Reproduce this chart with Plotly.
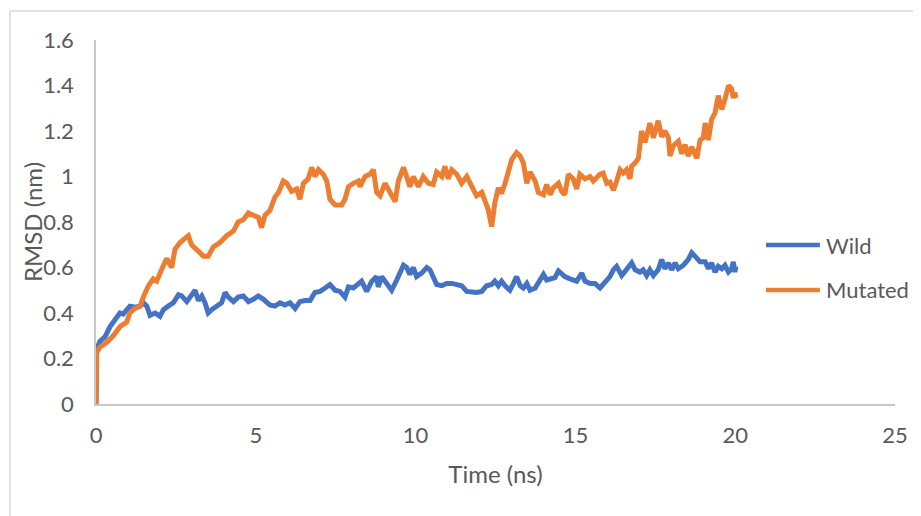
import plotly.graph_objects as go

# Time (ns) and RMSD (nm)
wild_t = [0, 0.02, 0.12, 0.28, 0.44, 0.59, 0.75, 0.85, 0.96, 1.06, 1.22, 1.38, 1.48, 1.59, 1.69,
          1.85, 2.00, 2.11, 2.26, 2.42, 2.58, 2.68, 2.84, 2.99, 3.10, 3.20, 3.31, 3.41, 3.51, 3.62,
          3.78, 3.93, 4.04, 4.14, 4.30, 4.45, 4.61, 4.77, 4.92, 5.08, 5.24, 5.39, 5.44, 5.60, 5.76,
          5.91, 6.07, 6.23, 6.38, 6.54, 6.70, 6.85, 7.01, 7.17, 7.32, 7.48, 7.63, 7.79, 7.90, 8.05,
          8.21, 8.31, 8.47, 8.63, 8.78, 8.83, 8.94, 9.10, 9.25, 9.41, 9.51, 9.62, 9.72, 9.82, 9.93,
          10.03, 10.19, 10.35, 10.45, 10.55, 10.66, 10.82, 10.97, 11.13, 11.29, 11.44, 11.60, 11.75,
          11.91, 12.07, 12.22, 12.38, 12.48, 12.59, 12.69, 12.80, 12.95, 13.06, 13.16, 13.27, 13.37,
          13.48, 13.58, 13.74, 13.84, 14.00, 14.10, 14.26, 14.36, 14.47, 14.57, 14.67, 14.83, 15.04,
          15.20, 15.30, 15.46, 15.61, 15.77, 15.93, 16.08, 16.19, 16.29, 16.45, 16.60, 16.76, 16.87,
          17.02, 17.12, 17.23, 17.33, 17.44, 17.59, 17.70, 17.80, 17.91, 18.01, 18.12, 18.22, 18.38,
          18.53, 18.64, 18.74, 18.90, 19.06, 19.16, 19.26, 19.37, 19.47, 19.58, 19.68, 19.79, 19.89,
          19.94, 19.99, 20.02]
wild_rmsd = [0, 0.24, 0.275, 0.295, 0.34, 0.37, 0.40, 0.395, 0.415, 0.43, 0.425, 0.43, 0.445, 0.43, 0.39,
             0.40, 0.385, 0.415, 0.43, 0.445, 0.48, 0.475, 0.45, 0.475, 0.50, 0.455, 0.475, 0.445, 0.40, 0.415,
             0.43, 0.445, 0.49, 0.47, 0.45, 0.47, 0.475, 0.45, 0.46, 0.475, 0.46, 0.445, 0.435, 0.43, 0.445,
             0.435, 0.445, 0.42, 0.45, 0.455, 0.455, 0.49, 0.495, 0.51, 0.525, 0.50, 0.495, 0.47, 0.515, 0.51,
             0.525, 0.54, 0.495, 0.54, 0.56, 0.515, 0.56, 0.525, 0.50, 0.545, 0.575, 0.61, 0.60, 0.57, 0.60,
             0.56, 0.575, 0.60, 0.59, 0.56, 0.525, 0.52, 0.53, 0.53, 0.525, 0.52, 0.495, 0.49,
             0.49, 0.495, 0.52, 0.525, 0.54, 0.52, 0.54, 0.52, 0.50, 0.53, 0.56, 0.52, 0.51,
             0.53, 0.50, 0.51, 0.53, 0.57, 0.545, 0.55, 0.555, 0.585, 0.57, 0.56, 0.55, 0.54,
             0.575, 0.54, 0.53, 0.53, 0.51, 0.535, 0.56, 0.59, 0.605, 0.565, 0.59, 0.62, 0.59,
             0.58, 0.59, 0.565, 0.59, 0.565, 0.59, 0.635, 0.595, 0.62, 0.59, 0.62, 0.595, 0.61,
             0.635, 0.665, 0.65, 0.625, 0.625, 0.595, 0.62, 0.58, 0.605, 0.595, 0.61, 0.58, 0.595,
             0.625, 0.58, 0.605]

mut_t = [0, 0.02, 0.12, 0.33, 0.54, 0.75, 0.96, 1.06, 1.22, 1.38, 1.48, 1.64, 1.79, 1.90, 2.05,
         2.21, 2.37, 2.47, 2.63, 2.78, 2.89, 2.99, 3.15, 3.36, 3.51, 3.67, 3.88, 4.09, 4.30, 4.45,
         4.61, 4.77, 4.92, 5.08, 5.18, 5.29, 5.44, 5.60, 5.71, 5.86, 5.97, 6.12, 6.28, 6.38, 6.49,
         6.64, 6.75, 6.85, 6.96, 7.11, 7.22, 7.32, 7.48, 7.69, 7.79, 7.90, 8.05, 8.21, 8.26, 8.42,
         8.57, 8.68, 8.78, 8.89, 9.04, 9.15, 9.25, 9.36, 9.46, 9.62, 9.72, 9.82, 9.93, 10.09, 10.24,
         10.40, 10.55, 10.66, 10.82, 10.92, 11.02, 11.13, 11.29, 11.44, 11.60, 11.70, 11.81, 11.91,
         12.07, 12.17, 12.27, 12.38, 12.48, 12.59, 12.69, 12.80, 12.90, 13.01, 13.16, 13.27, 13.37,
         13.48, 13.58, 13.74, 13.84, 14.00, 14.10, 14.21, 14.31, 14.47, 14.57, 14.67, 14.78, 14.93,
         15.04, 15.14, 15.30, 15.46, 15.56, 15.67, 15.77, 15.87, 15.98, 16.08, 16.19, 16.29, 16.40,
         16.50, 16.60, 16.71, 16.76, 16.87, 16.97, 17.07, 17.18, 17.33, 17.44, 17.59, 17.70, 17.80,
         17.91, 17.96, 18.06, 18.22, 18.33, 18.43, 18.53, 18.64, 18.80, 18.90, 19.00, 19.06, 19.16,
         19.26, 19.37, 19.47, 19.58, 19.68, 19.79, 19.89, 19.94, 19.99, 20.02]
mut_rmsd = [0, 0.225, 0.25, 0.27, 0.30, 0.34, 0.36, 0.40, 0.42, 0.43, 0.47, 0.52, 0.55, 0.54, 0.59,
            0.64, 0.60, 0.68, 0.71, 0.73, 0.74, 0.70, 0.68, 0.65, 0.65, 0.69, 0.71, 0.74, 0.76, 0.80,
            0.81, 0.84, 0.83, 0.82, 0.775, 0.83, 0.85, 0.91, 0.93, 0.98, 0.97, 0.935, 0.945, 0.90, 0.97,
            0.99, 1.04, 1.00, 1.03, 1.01, 0.98, 0.90, 0.875, 0.875, 0.90, 0.955, 0.97, 0.98, 0.955, 1.00,
            1.01, 1.03, 0.93, 0.915, 0.97, 0.945, 0.925, 0.89, 0.98, 1.04, 1.00, 0.955, 1.00, 0.955, 1.00,
            0.97, 0.965, 1.02, 1.00, 1.045, 0.99, 1.03, 1.01, 0.97, 1.00, 0.97, 0.935, 0.915,
            0.93, 0.885, 0.855, 0.78, 0.885, 0.95, 0.925, 0.97, 1.02, 1.075, 1.105, 1.09, 1.06,
            0.97, 1.02, 0.98, 0.93, 0.92, 0.965, 0.92, 0.95, 0.97, 0.935, 0.92, 1.01, 0.99,
            0.945, 1.01, 0.99, 1.00, 0.98, 1.00, 1.01, 1.015, 0.97, 0.975, 0.94, 0.98, 1.03,
            1.015, 1.03, 0.99, 1.045, 1.06, 1.08, 1.20, 1.15, 1.235, 1.17, 1.245, 1.175, 1.20,
            1.17, 1.09, 1.135, 1.155, 1.10, 1.14, 1.09, 1.13, 1.08, 1.16, 1.17, 1.235, 1.16,
            1.25, 1.28, 1.355, 1.295, 1.34, 1.40, 1.385, 1.345, 1.37, 1.345]

series_names = ["Wild", "Mutated"]
series_colors = ["#4472C4", "#ED7D31"]
x_ticks = [0, 5, 10, 15, 20, 25]
y_ticks = [0, 0.2, 0.4, 0.6, 0.8, 1, 1.2, 1.4, 1.6]

FONT = "Lato, 'Open Sans', sans-serif"
TXT = "#595959"
FS = 22
FS_TITLE = 24

fig = go.Figure()
for t, v, name, col in [(wild_t, wild_rmsd, series_names[0], series_colors[0]),
                        (mut_t, mut_rmsd, series_names[1], series_colors[1])]:
    fig.add_trace(go.Scatter(x=t, y=v, mode="lines", name=name,
                             line=dict(color=col, width=5), showlegend=False))

axis_common = dict(showgrid=False, zeroline=False, showline=True, linecolor="#C8C8C8",
                   linewidth=1.5, ticks="", tickfont=dict(family=FONT, size=FS, color=TXT),
                   title_font=dict(family=FONT, size=FS_TITLE, color=TXT))
fig.update_xaxes(range=[0, 25], tickvals=x_ticks, ticktext=[str(v) for v in x_ticks],
                 title_text="Time (ns)", ticklabelstandoff=11, title_standoff=19, **axis_common)
fig.update_yaxes(range=[0, 1.6], tickvals=y_ticks,
                 ticktext=[("%g" % v) for v in y_ticks],
                 ticklabelstandoff=16, **axis_common)

shapes = [dict(type="rect", xref="paper", yref="paper", x0=-0.1076, x1=1.2, y0=-0.6, y1=1.0797,
               line=dict(color="#D9D9D9", width=1.5), fillcolor="rgba(0,0,0,0)", layer="below")]
annotations = [dict(xref="paper", yref="paper", x=-0.0801, y=0.5, text="RMSD (nm)",
                    textangle=-90, showarrow=False, xanchor="center", yanchor="middle",
                    font=dict(family=FONT, size=FS_TITLE, color=TXT))]
leg_y = [0.4368, 0.3132]
for name, col, yy in zip(series_names, series_colors, leg_y):
    shapes.append(dict(type="line", xref="paper", yref="paper", x0=0.8385, x1=0.906, y0=yy, y1=yy,
                       line=dict(color=col, width=4.5)))
    annotations.append(dict(xref="paper", yref="paper", x=0.911, y=yy, text=name, showarrow=False,
                            xanchor="left", yanchor="middle",
                            font=dict(family=FONT, size=FS, color=TXT)))

# the page adds an 8 px body margin, so margins are shifted to keep the plot area in place
fig.update_layout(width=921, height=516, margin=dict(l=88, r=34, t=32, b=120),
                  paper_bgcolor="white", plot_bgcolor="white",
                  shapes=shapes, annotations=annotations)

fig.write_html("out.html")
